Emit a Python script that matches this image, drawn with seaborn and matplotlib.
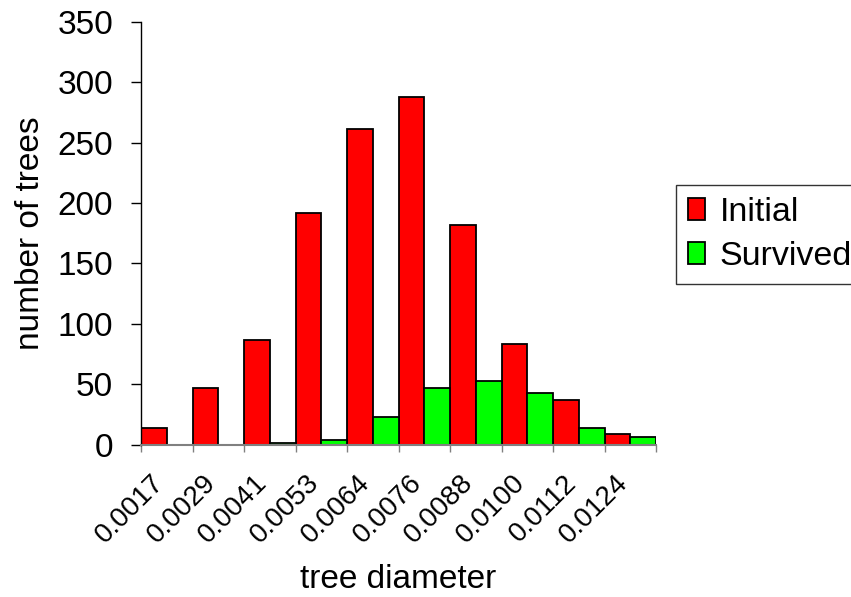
import pandas as pd
import numpy as np
import seaborn as sns
import matplotlib.pyplot as plt
from matplotlib.ticker import FixedLocator
import matplotlib.transforms as mtransforms

sns.set_style('ticks')
plt.rcParams['font.family'] = ['Liberation Sans', 'DejaVu Sans']
plt.rcParams['text.color'] = 'black'
plt.rcParams['axes.labelcolor'] = 'black'

# 数据
diameters = ['0.0017', '0.0029', '0.0041', '0.0053', '0.0064',
             '0.0076', '0.0088', '0.0100', '0.0112', '0.0124']
initial = [14, 47, 87, 192, 261, 288, 182, 83, 37, 9]
survived = [0, 0, 1, 4, 23, 47, 53, 43, 14, 6]
series_names = ['Initial', 'Survived']

df = pd.DataFrame({
    'diameter': diameters * 2,
    'count': initial + survived,
    'series': [series_names[0]] * len(diameters) + [series_names[1]] * len(diameters),
})

fig = plt.figure(figsize=(8.51, 5.97), dpi=100)
ax = fig.add_axes([141 / 851, 152.3 / 597, 515 / 851, 423 / 597])

sns.barplot(data=df, x='diameter', y='count', hue='series', order=diameters,
            hue_order=series_names, palette=['#FF0000', '#00FF00'], saturation=1,
            width=1.0, edgecolor='black', linewidth=1.3, ax=ax)

ax.set_xlim(-0.5, len(diameters) - 0.5)
ax.set_ylim(0, 350)
ax.set_yticks(np.arange(0, 351, 50))

# 类别边界处画刻度线，标签放在类别中心
ax.xaxis.set_minor_locator(FixedLocator(np.arange(-0.5, len(diameters), 1.0)))
ax.tick_params(axis='x', which='major', length=0, pad=18, labelsize=20, labelcolor='black')
ax.tick_params(axis='x', which='minor', length=5, width=1, color='#808080', direction='out')
ax.tick_params(axis='y', length=7, width=1, color='black', pad=13, labelsize=24, labelcolor='black')
plt.setp(ax.get_xticklabels(), rotation=45, ha='right', va='top')
offset = mtransforms.ScaledTranslation(2 / 72, 0, fig.dpi_scale_trans)
for lab in ax.get_xticklabels():
    lab.set_transform(lab.get_transform() + offset)

sns.despine(ax=ax)
ax.spines['left'].set_color('black')
ax.spines['left'].set_linewidth(1)
ax.spines['bottom'].set_color('#808080')
ax.spines['bottom'].set_linewidth(1.5)

ax.set_xlabel('tree diameter', fontsize=24)
ax.set_ylabel('number of trees', fontsize=24)
ax.xaxis.set_label_coords(0.5, -0.283)
ax.yaxis.set_label_coords(-0.185, 0.5)

sns.move_legend(ax, loc='upper left', bbox_to_anchor=(676 / 851, 1 - 185 / 597),
                bbox_transform=fig.transFigure, title=None, fontsize=24.5,
                frameon=True, fancybox=False, borderaxespad=0, borderpad=0.36,
                handlelength=0.5, handleheight=0.6, handletextpad=0.42,
                labelspacing=0.38)
leg = ax.get_legend()
leg.get_frame().set_edgecolor('black')
leg.get_frame().set_linewidth(1)
for h in leg.legend_handles:
    h.set_edgecolor('black')
    h.set_linewidth(1.3)

fig.savefig('out.png', dpi=100)
